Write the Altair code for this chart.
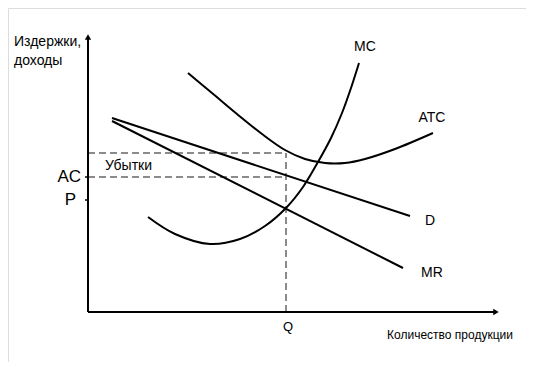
import altair as alt
import pandas as pd

# Schematic units: origin at the crossing of the axes
mc_q = [60, 87, 122, 152, 177, 198, 215, 230, 243, 254, 263, 271]
mc_c = [95, 78, 68, 73, 86, 104, 125, 150, 174, 199, 224, 249]

atc_q = [100, 124, 149, 174, 197, 217, 237, 257, 277, 307, 345]
atc_c = [239, 219, 198, 178, 162, 153, 149, 149, 153, 163, 179]

d_q = [24, 322]
d_p = [194, 96]

mr_q = [24, 315]
mr_p = [191, 44]

Q = 198
ATC_LEVEL = 159
AC_LEVEL = 135
P_LEVEL = 112

X_MAX = 408
Y_MAX = 275

label_text = ["MC", "ATC", "D", "MR", "Q", "Количество продукции", "Убытки"]
label_x = [277, 344, 342, 344, 200, 362, 17]
label_y = [265, 194, 91, 39, -15, -23, 146]
label_size = [14, 14, 14, 14, 13, 12, 14]
label_align = ["center", "center", "center", "center", "center", "center", "left"]

ylab_text = ["Издержки,", "доходы"]
ylab_x = [-74, -74]
ylab_y = [270, 251]

lev_text = ["AC", "P"]
lev_x = [-7, -12]
lev_y = [AC_LEVEL, P_LEVEL]

xs = alt.Scale(domain=[-80, 438], nice=False, zero=False)
ys = alt.Scale(domain=[-50, 304], nice=False, zero=False)

def X(f):
    return alt.X(f, type="quantitative", scale=xs, axis=None)

def Y(f):
    return alt.Y(f, type="quantitative", scale=ys, axis=None)

curves = []
for name, qq, vv in [("MC", mc_q, mc_c), ("ATC", atc_q, atc_c), ("D", d_q, d_p), ("MR", mr_q, mr_p)]:
    for i, (a, b) in enumerate(zip(qq, vv)):
        curves.append({"curve": name, "q": a, "v": b, "o": i})
curves_df = pd.DataFrame(curves)

curve_layer = alt.Chart(curves_df).mark_line(
    color="black", strokeWidth=2, interpolate="catmull-rom"
).encode(x=X("q"), y=Y("v"), detail="curve:N", order="o:Q")

axes_df = pd.DataFrame({"x": [0, 0], "y": [0, 0], "x2": [X_MAX, 0], "y2": [0, Y_MAX]})
axes_layer = alt.Chart(axes_df).mark_rule(color="black", strokeWidth=2).encode(
    x=X("x"), y=Y("y"), x2="x2", y2="y2")

arrows_df = pd.DataFrame({"x": [0, X_MAX], "y": [Y_MAX, 0], "s": ["triangle-up", "triangle-right"]})
arrow_layer = alt.Chart(arrows_df).mark_point(filled=True, color="black", size=40, opacity=1).encode(
    x=X("x"), y=Y("y"), shape=alt.Shape("s:N", scale=None))

dash_df = pd.DataFrame({
    "x": [0, 0, Q], "y": [ATC_LEVEL, AC_LEVEL, 0],
    "x2": [Q, Q, Q], "y2": [ATC_LEVEL, AC_LEVEL, ATC_LEVEL]})
dash_layer = alt.Chart(dash_df).mark_rule(color="#666666", strokeWidth=1.5, strokeDash=[7, 4]).encode(
    x=X("x"), y=Y("y"), x2="x2", y2="y2")

ticks_df = pd.DataFrame({"x": [-3, -3], "x2": [0, 0], "y": [AC_LEVEL, P_LEVEL]})
tick_layer = alt.Chart(ticks_df).mark_rule(color="black", strokeWidth=1.5).encode(
    x=X("x"), x2="x2", y=Y("y"))

labels_df = pd.DataFrame({"t": label_text, "x": label_x, "y": label_y,
                          "s": label_size, "a": label_align})
label_layers = []
for i, row in labels_df.iterrows():
    label_layers.append(
        alt.Chart(labels_df.iloc[[i]]).mark_text(
            font="Liberation Sans", fontSize=int(row["s"]), align=row["a"],
            baseline="middle", color="black"
        ).encode(x=X("x"), y=Y("y"), text="t:N")
    )

ylab_df = pd.DataFrame({"t": ylab_text, "x": ylab_x, "y": ylab_y})
ylab_layer = alt.Chart(ylab_df).mark_text(
    font="Liberation Sans", fontSize=14, align="left", baseline="middle", color="black"
).encode(x=X("x"), y=Y("y"), text="t:N")

lev_df = pd.DataFrame({"t": lev_text, "x": lev_x, "y": lev_y})
lev_layer = alt.Chart(lev_df).mark_text(
    font="Liberation Sans", fontSize=17, align="right", baseline="middle", color="black"
).encode(x=X("x"), y=Y("y"), text="t:N")

chart = alt.layer(
    dash_layer, axes_layer, tick_layer, curve_layer, arrow_layer,
    ylab_layer, lev_layer, *label_layers
).properties(
    width=518, height=354, padding=0, autosize=alt.AutoSizeParams(type="none")
).configure_view(stroke=None).configure(background="white")

chart.save("out.html", embed_options={"renderer": "svg", "actions": False})
